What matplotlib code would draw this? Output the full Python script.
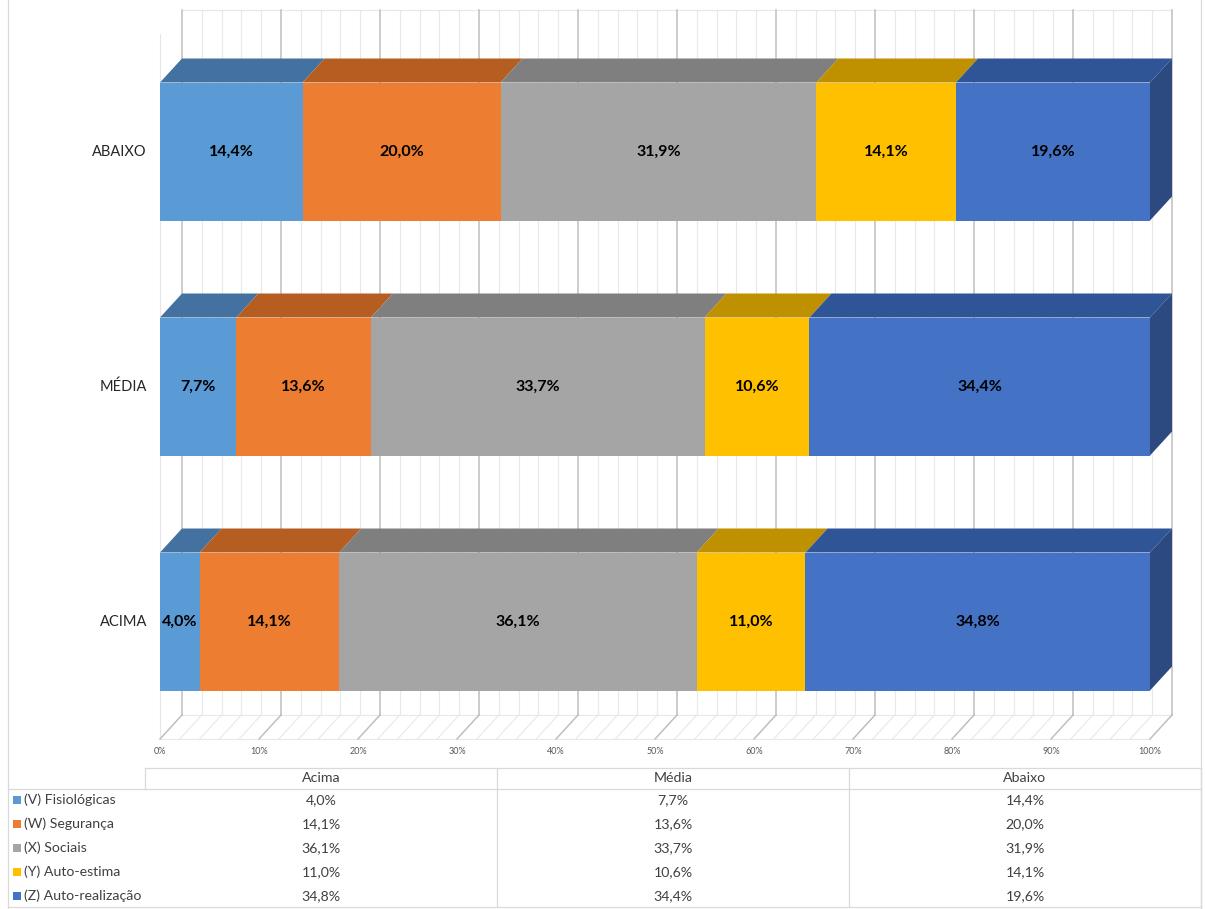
import matplotlib
matplotlib.use("Agg")
import matplotlib.pyplot as plt
from matplotlib.patches import Polygon, Rectangle
import numpy as np

# ---------------- data ----------------
categories = ["ACIMA", "MÉDIA", "ABAIXO"]          # bottom to top
table_cols = ["Acima", "Média", "Abaixo"]
series_names = ["(V) Fisiológicas", "(W) Segurança", "(X) Sociais",
                "(Y) Auto-estima", "(Z) Auto-realização"]
v_fisio = [4.0, 7.7, 14.4]
w_seg = [14.1, 13.6, 20.0]
x_soc = [36.1, 33.7, 31.9]
y_auto = [11.0, 10.6, 14.1]
z_real = [34.8, 34.4, 19.6]
series_values = [v_fisio, w_seg, x_soc, y_auto, z_real]
xticks = list(range(0, 101, 10))
xtick_labels = [f"{t}%" for t in xticks]

# ---------------- styles ----------------
front_cols = ["#5B9BD5", "#ED7D31", "#A5A5A5", "#FFC000", "#4472C4"]
top_cols = ["#4472A0", "#B65E22", "#7F7F7F", "#BF9000", "#2F5597"]
side_col = "#2C4A80"
FONT = ["Lato", "DejaVu Sans"]
plt.rcParams["font.family"] = FONT

W, H = 1206, 909
fig = plt.figure(figsize=(W / 100, H / 100), dpi=100)
fig.patch.set_facecolor("white")

# pixel geometry of the chart (front plane): 0% -> x=160, 100% -> x=1150
PX_PER_PCT = 9.9
X0 = 160
PX_PER_CAT = 235.0
Y_ACIMA = 621.5
ax = fig.add_axes([0, 0, 1, 1])
ax.set_xlim(-X0 / PX_PER_PCT, (W - X0) / PX_PER_PCT)
ax.set_ylim((Y_ACIMA - H) / PX_PER_CAT, Y_ACIMA / PX_PER_CAT)
ax.axis("off")

dx = 22 / PX_PER_PCT        # depth offset in data units
dy = 24 / PX_PER_CAT
bar_h = 138 / PX_PER_CAT
ylo, yhi = -0.5, len(categories) - 0.5

major_c = "#BFBFBF"
minor_c = "#E8E8E8"
# back wall minor & major gridlines
for t in np.arange(0, 101, 2):
    major = (t % 10 == 0)
    c = major_c if major else minor_c
    lw = 1.1 if major else 0.8
    z = 1.2 if major else 1
    ax.plot([t + dx, t + dx], [ylo + dy, yhi + dy], color=c, lw=lw, zorder=z)
    # floor diagonals
    ax.plot([t + dx, t], [ylo + dy, ylo], color=c, lw=lw, zorder=z)
# back wall top / floor edges
ax.plot([dx, 100 + dx], [yhi + dy, yhi + dy], color=minor_c, lw=0.8, zorder=1)
ax.plot([dx, 100 + dx], [ylo + dy, ylo + dy], color=minor_c, lw=0.8, zorder=1)
ax.plot([0, 100], [ylo, ylo], color=minor_c, lw=0.8, zorder=1)
# left wall front edge
ax.plot([0, 0], [ylo, yhi], color="#E6E6E6", lw=0.8, zorder=1)

# tick labels
for t, lab in zip(xticks, xtick_labels):
    ax.text(t, (Y_ACIMA - 752) / PX_PER_CAT, lab, ha="center", va="center",
            fontsize=6.5, color="#595959")

# bars
for ci, cat in enumerate(categories):
    left = 0.0
    yb = ci - bar_h / 2
    yt = ci + bar_h / 2
    n = len(series_values)
    for si in range(n):
        v = series_values[si][ci]
        r = left + v
        # top face
        ax.add_patch(Polygon([(left, yt), (r, yt), (r + dx, yt + dy), (left + dx, yt + dy)],
                             closed=True, facecolor=top_cols[si], edgecolor="none", zorder=3))
        # front face
        ax.add_patch(Rectangle((left, yb), v, bar_h, facecolor=front_cols[si],
                               edgecolor="none", zorder=4))
        if si == n - 1:
            ax.add_patch(Polygon([(r, yb), (r, yt), (r + dx, yt + dy), (r + dx, yb + dy)],
                                 closed=True, facecolor=side_col, edgecolor="none", zorder=3))
        lab = f"{v:.1f}".replace(".", ",") + "%"
        ax.text(left + v / 2, ci, lab, ha="center", va="center", fontsize=11.5,
                fontweight="bold", color="#000000", zorder=6)
        left = r
    ax.text(-13 / PX_PER_PCT, ci, cat, ha="right", va="center", fontsize=10.5,
            color="#262626")

# ---------------- data table ----------------
def fx(x):
    return x / W

def fy(y):
    return 1 - y / H

line_c = "#D9D9D9"
def hline(x1, x2, y):
    fig.add_artist(plt.Line2D([fx(x1), fx(x2)], [fy(y), fy(y)], color=line_c, lw=0.9))

def vline(x, y1, y2):
    fig.add_artist(plt.Line2D([fx(x), fx(x)], [fy(y1), fy(y2)], color=line_c, lw=0.9))

# chart border
vline(8, 0, H)
vline(1201, 0, H)
col_edges = [145, 497, 849, 1201]
hline(145, 1201, 768)
hline(8, 1201, 789)
hline(8, 1201, 907)
vline(145, 768, 789)
for xe in col_edges[1:]:
    vline(xe, 768, 907)

row_y = [800, 824, 848, 872, 896]
FS_T = 10.2
for j, name in enumerate(table_cols):
    xc = (col_edges[j] + col_edges[j + 1]) / 2
    fig.text(fx(xc), fy(778), name, ha="center", va="center", fontsize=FS_T, color="#404040")
for si, name in enumerate(series_names):
    y = row_y[si]
    fig.add_artist(Rectangle((fx(13), fy(y + 4)), 8 / W, 8 / H, transform=fig.transFigure,
                             facecolor=front_cols[si], edgecolor="none"))
    fig.text(fx(24), fy(y), name, ha="left", va="center", fontsize=FS_T, color="#404040")
    for j in range(len(table_cols)):
        xc = (col_edges[j] + col_edges[j + 1]) / 2
        lab = f"{series_values[si][j]:.1f}".replace(".", ",") + "%"
        fig.text(fx(xc), fy(y), lab, ha="center", va="center", fontsize=FS_T, color="#404040")

fig.savefig("out.png", dpi=100, facecolor="white")
